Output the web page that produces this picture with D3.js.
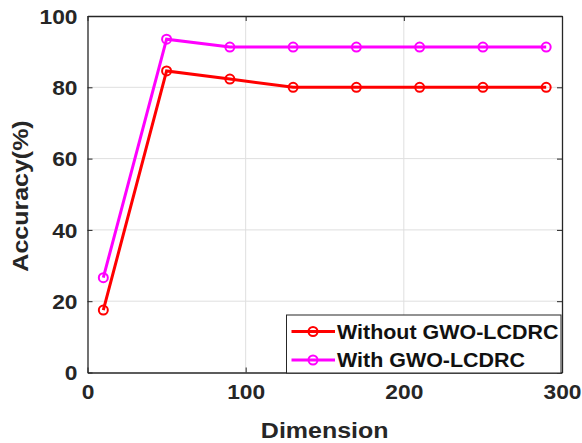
<!DOCTYPE html>
<html><head><meta charset="utf-8">
<script src="https://cdn.jsdelivr.net/npm/d3@7"></script>
<style>body{margin:0;background:#fff;} text{font-family:"Liberation Sans",Arial,sans-serif;font-weight:bold;}</style>
</head><body>
<svg id="c" width="582" height="443"></svg>
<script>
const dimensions = [10, 50, 90, 130, 170, 210, 250, 290];
const withoutGWO = [17.5, 84.6, 82.3, 80, 80, 80, 80, 80];
const withGWO = [26.6, 93.5, 91.3, 91.3, 91.3, 91.3, 91.3, 91.3];
const seriesNames = ["Without GWO-LCDRC", "With GWO-LCDRC"];
const xTicks = [0, 100, 200, 300];
const yTicks = [0, 20, 40, 60, 80, 100];

const svg = d3.select("#c");
const L = 87.5, R = 562, T = 16, B = 372.5;
const x = d3.scaleLinear().domain([0, 300]).range([L, R]);
const y = d3.scaleLinear().domain([0, 100]).range([B, T]);
const ink = "#262626";

function stretch(sel, k) {
  sel.each(function () {
    const w = this.getComputedTextLength();
    d3.select(this).attr("textLength", w * k).attr("lengthAdjust", "spacingAndGlyphs");
  });
}

// grid
svg.append("g").selectAll("line").data(xTicks.slice(1, -1)).join("line")
  .attr("x1", d => x(d)).attr("x2", d => x(d)).attr("y1", T).attr("y2", B)
  .attr("stroke", "#dfdfdf").attr("stroke-width", 1);
svg.append("g").selectAll("line").data(yTicks.slice(1, -1)).join("line")
  .attr("y1", d => y(d)).attr("y2", d => y(d)).attr("x1", L).attr("x2", R)
  .attr("stroke", "#dfdfdf").attr("stroke-width", 1);

// axes
const xa = svg.append("g").attr("transform", `translate(0,${B})`)
  .call(d3.axisBottom(x).tickValues(xTicks).tickSizeInner(-5).tickSizeOuter(0).tickPadding(12));
const xt = svg.append("g").attr("transform", `translate(0,${T})`)
  .call(d3.axisTop(x).tickValues(xTicks).tickSizeInner(-5).tickSizeOuter(0).tickFormat(""));
const ya = svg.append("g").attr("transform", `translate(${L},0)`)
  .call(d3.axisLeft(y).tickValues(yTicks).tickSizeInner(-5).tickSizeOuter(0).tickPadding(10));
const yr = svg.append("g").attr("transform", `translate(${R},0)`)
  .call(d3.axisRight(y).tickValues(yTicks).tickSizeInner(-5).tickSizeOuter(0).tickFormat(""));
[xa, xt, ya, yr].forEach(g => {
  g.select(".domain").attr("stroke", ink).attr("stroke-width", 1.3);
  g.selectAll(".tick line").attr("stroke", ink).attr("stroke-width", 1);
  g.selectAll("text").attr("fill", ink).style("font-size", "20.5px").style("font-family", "Liberation Sans, Arial, sans-serif").style("font-weight", "bold");
});
xa.selectAll("text").attr("dy", "0.71em");
ya.selectAll("text").attr("dy", "0.36em");
stretch(xa.selectAll("text"), 1.11);
stretch(ya.selectAll("text"), 1.11);

// labels
const xl = svg.append("text").attr("x", 324.7).attr("y", 437.5).attr("text-anchor", "middle")
  .attr("fill", ink).style("font-size", "22.5px").text("Dimension");
const yl = svg.append("text").attr("transform", `translate(28,196) rotate(-90)`).attr("text-anchor", "middle")
  .attr("fill", ink).style("font-size", "22.5px").text("Accuracy(%)");
stretch(xl, 1.11);
stretch(yl, 1.11);

// series
const series = [
  {name: seriesNames[0], vals: withoutGWO, color: "#ff0000"},
  {name: seriesNames[1], vals: withGWO, color: "#ff00ff"}
];
const line = d3.line().x((d, i) => x(dimensions[i])).y(d => y(d));
series.forEach(s => {
  svg.append("path").datum(s.vals).attr("d", line).attr("fill", "none")
    .attr("stroke", s.color).attr("stroke-width", 3);
  svg.append("g").selectAll("circle").data(s.vals).join("circle")
    .attr("cx", (d, i) => x(dimensions[i])).attr("cy", d => y(d)).attr("r", 4.5)
    .attr("fill", "none").attr("stroke", s.color).attr("stroke-width", 2);
});

// legend
const lg = svg.append("g");
lg.append("rect").attr("x", 286.5).attr("y", 315).attr("width", 274.5).attr("height", 58)
  .attr("fill", "#fff").attr("stroke", ink).attr("stroke-width", 1);
series.forEach((s, i) => {
  const cy = 331.5 + i * 28.5;
  lg.append("line").attr("x1", 291.5).attr("x2", 335).attr("y1", cy).attr("y2", cy)
    .attr("stroke", s.color).attr("stroke-width", 3);
  lg.append("circle").attr("cx", 313).attr("cy", cy).attr("r", 4.5).attr("fill", "none")
    .attr("stroke", s.color).attr("stroke-width", 2);
  const t = lg.append("text").attr("x", 337).attr("y", cy).attr("dy", "0.36em").attr("fill", "#111")
    .style("font-size", "19.5px").text(s.name);
  stretch(t, 1.1);
});
</script>
</body></html>
